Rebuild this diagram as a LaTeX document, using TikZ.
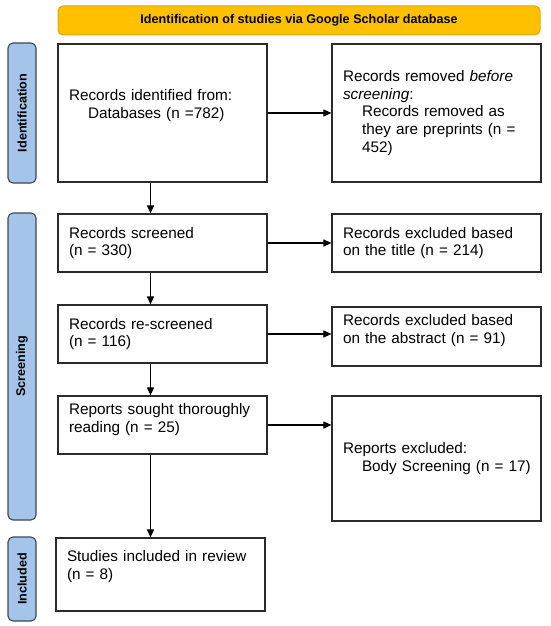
\documentclass[tikz,border=0pt]{standalone}
\usepackage{fontspec}
\setmainfont{Liberation Sans}
\usetikzlibrary{arrows.meta}
\definecolor{headgold}{HTML}{FFC000}
\definecolor{headedge}{HTML}{E3A700}
\definecolor{barblue}{HTML}{A5C4EA}
\definecolor{baredge}{HTML}{3B4A5A}
\definecolor{boxedge}{HTML}{2B2B2B}

\begin{document}
\begin{tikzpicture}[x=1pt,y=-1pt,
  box/.style={draw=boxedge, line width=1.2pt, fill=white, minimum width=209pt,
    inner xsep=11pt, inner ysep=4pt, text width=187pt, align=left,
    font=\fontsize{15.3}{17.6}\selectfont},
  phase/.style={draw=baredge, line width=1.1pt, fill=barblue, rounded corners=5pt,
    rotate=90, minimum height=28pt, inner sep=0pt,
    font=\bfseries\fontsize{12.6}{14}\selectfont},
  flow/.style={draw=black, line width=1.1pt, -{Triangle[length=8pt,width=7pt]}}]
\useasboundingbox (0,0) rectangle (550,626);
\node[draw=headedge, fill=headgold, rounded corners=5pt, line width=1pt,
  minimum width=482pt, minimum height=29pt,
  font=\bfseries\fontsize{12.6}{14}\selectfont] (head) at (299,20.5)
  {Identification of studies via Google Scholar database};
\node[phase, minimum width=140pt] (idphase) at (22,113) {Identification};
\node[phase, minimum width=307pt] (scphase) at (22,366.5) {Screening};
\node[phase, minimum width=84pt] (inphase) at (22,579) {Included};
\node[box, minimum height=138pt, text depth=35.5pt] (recs) at (162.5,113)
  {Records identified from:\\\hspace*{19pt}Databases (n =782)};
\node[box, minimum height=138pt] (removed) at (436.5,113)
  {Records removed \textit{before}\\\textit{screening}:\\
   \hspace*{19pt}Records removed as\\\hspace*{19pt}they are preprints (n =\\
   \hspace*{19pt}452)};
\node[box, minimum height=58pt] (screened) at (162.5,243)
  {Records screened\\(n = 330)};
\node[box, minimum height=58pt] (extitle) at (436.5,243)
  {Records excluded based\\on the title (n = 214)};
\node[box, minimum height=58pt] (rescreened) at (162.5,334)
  {Records re-screened\\(n = 116)};
\node[box, minimum height=59pt, text depth=32.5pt] (exabstract) at (436.5,336.5)
  {Records excluded based\\on the abstract (n = 91)};
\node[box, minimum height=58pt, text depth=31.5pt] (sought) at (162.5,425)
  {Reports sought thoroughly\\reading (n = 25)};
\node[box, minimum height=125pt] (exbody) at (436.5,458.5)
  {Reports excluded:\\\hspace*{19pt}\mbox{Body Screening (n = 17)}};
\node[box, minimum height=73pt, text depth=36.5pt] (included) at (160.5,574.5)
  {Studies included in review\\(n = 8)};
\draw[flow] (recs.east) -- (removed.west);
\draw[flow] (screened.east) -- (screened.east -| extitle.west);
\draw[flow] (rescreened.east) -- (rescreened.east -| exabstract.west);
\draw[flow] (sought.east) -- (sought.east -| exbody.west);
\draw[flow] ([xshift=-12pt]recs.south) -- ([xshift=-12pt]recs.south |- screened.north);
\draw[flow] ([xshift=-12pt]screened.south) -- ([xshift=-12pt]screened.south |- rescreened.north);
\draw[flow] ([xshift=-12pt]rescreened.south) -- ([xshift=-12pt]rescreened.south |- sought.north);
\draw[flow] ([xshift=-12pt]sought.south) -- ([xshift=-12pt]sought.south |- included.north);
\end{tikzpicture}
\end{document}
